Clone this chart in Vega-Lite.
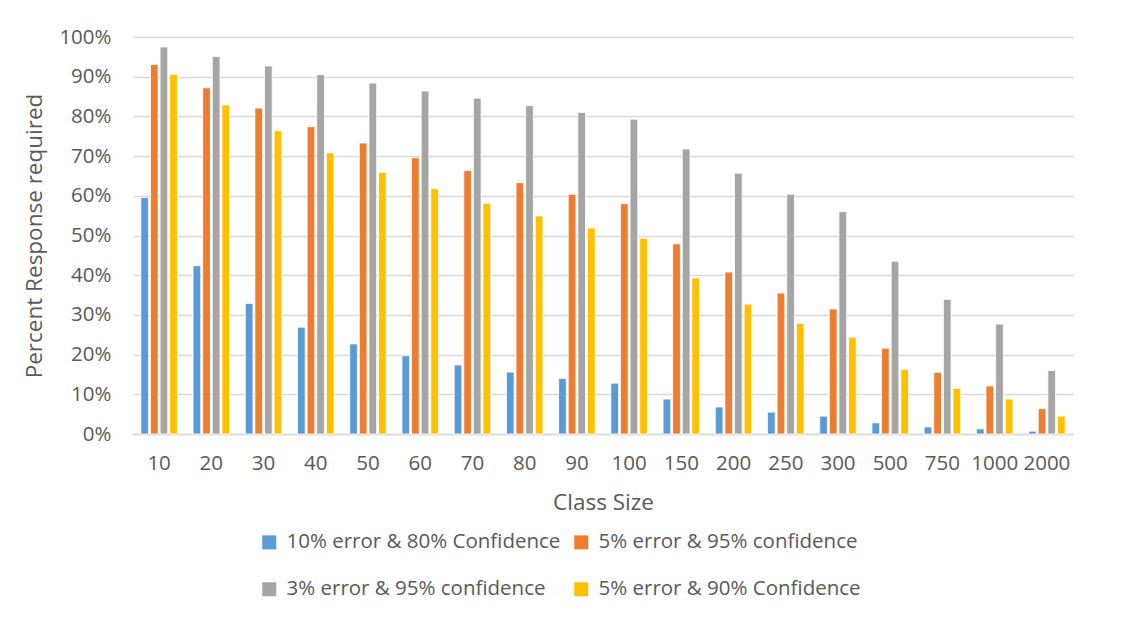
{
  "$schema": "https://vega.github.io/schema/vega-lite/v6.json",
  "width": 940,
  "height": 397,
  "autosize": {"type": "none"},
  "padding": {"left": 133, "top": 37, "right": 48, "bottom": 185},
  "background": "white",
  "config": {
    "font": "Open Sans",
    "view": {"stroke": null},
    "axis": {"labelColor": "#595959", "titleColor": "#595959", "labelFont": "Open Sans", "titleFont": "Open Sans", "titleFontWeight": "normal"},
    "legend": {"labelColor": "#595959", "labelFont": "Open Sans"}
  },
  "data": {
    "values": [
      {"size": "10", "series": "10% error & 80% Confidence", "v": 0.596},
      {"size": "10", "series": "5% error & 95% confidence", "v": 0.931},
      {"size": "10", "series": "3% error & 95% confidence", "v": 0.975},
      {"size": "10", "series": "5% error & 90% Confidence", "v": 0.906},
      {"size": "20", "series": "10% error & 80% Confidence", "v": 0.424},
      {"size": "20", "series": "5% error & 95% confidence", "v": 0.872},
      {"size": "20", "series": "3% error & 95% confidence", "v": 0.951},
      {"size": "20", "series": "5% error & 90% Confidence", "v": 0.829},
      {"size": "30", "series": "10% error & 80% Confidence", "v": 0.329},
      {"size": "30", "series": "5% error & 95% confidence", "v": 0.821},
      {"size": "30", "series": "3% error & 95% confidence", "v": 0.927},
      {"size": "30", "series": "5% error & 90% Confidence", "v": 0.764},
      {"size": "40", "series": "10% error & 80% Confidence", "v": 0.269},
      {"size": "40", "series": "5% error & 95% confidence", "v": 0.774},
      {"size": "40", "series": "3% error & 95% confidence", "v": 0.905},
      {"size": "40", "series": "5% error & 90% Confidence", "v": 0.708},
      {"size": "50", "series": "10% error & 80% Confidence", "v": 0.227},
      {"size": "50", "series": "5% error & 95% confidence", "v": 0.733},
      {"size": "50", "series": "3% error & 95% confidence", "v": 0.884},
      {"size": "50", "series": "5% error & 90% Confidence", "v": 0.659},
      {"size": "60", "series": "10% error & 80% Confidence", "v": 0.197},
      {"size": "60", "series": "5% error & 95% confidence", "v": 0.696},
      {"size": "60", "series": "3% error & 95% confidence", "v": 0.864},
      {"size": "60", "series": "5% error & 90% Confidence", "v": 0.618},
      {"size": "70", "series": "10% error & 80% Confidence", "v": 0.174},
      {"size": "70", "series": "5% error & 95% confidence", "v": 0.664},
      {"size": "70", "series": "3% error & 95% confidence", "v": 0.846},
      {"size": "70", "series": "5% error & 90% Confidence", "v": 0.581},
      {"size": "80", "series": "10% error & 80% Confidence", "v": 0.156},
      {"size": "80", "series": "5% error & 95% confidence", "v": 0.633},
      {"size": "80", "series": "3% error & 95% confidence", "v": 0.827},
      {"size": "80", "series": "5% error & 90% Confidence", "v": 0.549},
      {"size": "90", "series": "10% error & 80% Confidence", "v": 0.140},
      {"size": "90", "series": "5% error & 95% confidence", "v": 0.604},
      {"size": "90", "series": "3% error & 95% confidence", "v": 0.810},
      {"size": "90", "series": "5% error & 90% Confidence", "v": 0.519},
      {"size": "100", "series": "10% error & 80% Confidence", "v": 0.128},
      {"size": "100", "series": "5% error & 95% confidence", "v": 0.580},
      {"size": "100", "series": "3% error & 95% confidence", "v": 0.793},
      {"size": "100", "series": "5% error & 90% Confidence", "v": 0.493},
      {"size": "150", "series": "10% error & 80% Confidence", "v": 0.088},
      {"size": "150", "series": "5% error & 95% confidence", "v": 0.479},
      {"size": "150", "series": "3% error & 95% confidence", "v": 0.718},
      {"size": "150", "series": "5% error & 90% Confidence", "v": 0.393},
      {"size": "200", "series": "10% error & 80% Confidence", "v": 0.068},
      {"size": "200", "series": "5% error & 95% confidence", "v": 0.408},
      {"size": "200", "series": "3% error & 95% confidence", "v": 0.657},
      {"size": "200", "series": "5% error & 90% Confidence", "v": 0.327},
      {"size": "250", "series": "10% error & 80% Confidence", "v": 0.055},
      {"size": "250", "series": "5% error & 95% confidence", "v": 0.355},
      {"size": "250", "series": "3% error & 95% confidence", "v": 0.604},
      {"size": "250", "series": "5% error & 90% Confidence", "v": 0.279},
      {"size": "300", "series": "10% error & 80% Confidence", "v": 0.045},
      {"size": "300", "series": "5% error & 95% confidence", "v": 0.315},
      {"size": "300", "series": "3% error & 95% confidence", "v": 0.560},
      {"size": "300", "series": "5% error & 90% Confidence", "v": 0.244},
      {"size": "500", "series": "10% error & 80% Confidence", "v": 0.028},
      {"size": "500", "series": "5% error & 95% confidence", "v": 0.216},
      {"size": "500", "series": "3% error & 95% confidence", "v": 0.435},
      {"size": "500", "series": "5% error & 90% Confidence", "v": 0.163},
      {"size": "750", "series": "10% error & 80% Confidence", "v": 0.018},
      {"size": "750", "series": "5% error & 95% confidence", "v": 0.155},
      {"size": "750", "series": "3% error & 95% confidence", "v": 0.339},
      {"size": "750", "series": "5% error & 90% Confidence", "v": 0.115},
      {"size": "1000", "series": "10% error & 80% Confidence", "v": 0.013},
      {"size": "1000", "series": "5% error & 95% confidence", "v": 0.121},
      {"size": "1000", "series": "3% error & 95% confidence", "v": 0.277},
      {"size": "1000", "series": "5% error & 90% Confidence", "v": 0.088},
      {"size": "2000", "series": "10% error & 80% Confidence", "v": 0.007},
      {"size": "2000", "series": "5% error & 95% confidence", "v": 0.064},
      {"size": "2000", "series": "3% error & 95% confidence", "v": 0.160},
      {"size": "2000", "series": "5% error & 90% Confidence", "v": 0.045}
    ]
  },
  "mark": {"type": "bar", "stroke": "white", "strokeWidth": 0.8},
  "encoding": {
    "x": {
      "field": "size", "type": "ordinal", "sort": null,
      "scale": {"paddingInner": 0.3, "paddingOuter": 0.15},
      "axis": {
        "title": "Class Size", "labelAngle": 0, "labelFontSize": 20.5, "titleFontSize": 22.5,
        "labelPadding": 19, "titlePadding": 18, "ticks": false,
        "domainColor": "#D9D9D9", "domainWidth": 1.5
      }
    },
    "xOffset": {
      "field": "series", "type": "nominal", "sort": null,
      "scale": {"paddingInner": 0.2, "paddingOuter": 0}
    },
    "y": {
      "field": "v", "type": "quantitative",
      "scale": {"domain": [0, 1], "nice": false},
      "axis": {
        "title": "Percent Response required", "format": ".0%", "values": [0, 0.1, 0.2, 0.3, 0.4, 0.5, 0.6, 0.7, 0.8, 0.9, 1],
        "labelFontSize": 20.5, "titleFontSize": 22.5, "labelPadding": 22, "titlePadding": 12,
        "domain": false, "ticks": false, "gridColor": "#D9D9D9", "gridWidth": 1.5
      }
    },
    "color": {
      "field": "series", "type": "nominal", "sort": null,
      "scale": {
        "domain": ["10% error & 80% Confidence", "5% error & 95% confidence", "3% error & 95% confidence", "5% error & 90% Confidence"],
        "range": ["#5B9BD5", "#ED7D31", "#A5A5A5", "#FFC000"]
      },
      "legend": {
        "title": null, "orient": "none", "legendX": 126, "legendY": 495,
        "columns": 2, "direction": "horizontal",
        "symbolType": "square", "symbolSize": 196, "symbolStrokeWidth": 0,
        "labelFontSize": 20.5, "labelLimit": 400, "labelOffset": 7,
        "columnPadding": 10, "rowPadding": 26
      }
    }
  }
}
